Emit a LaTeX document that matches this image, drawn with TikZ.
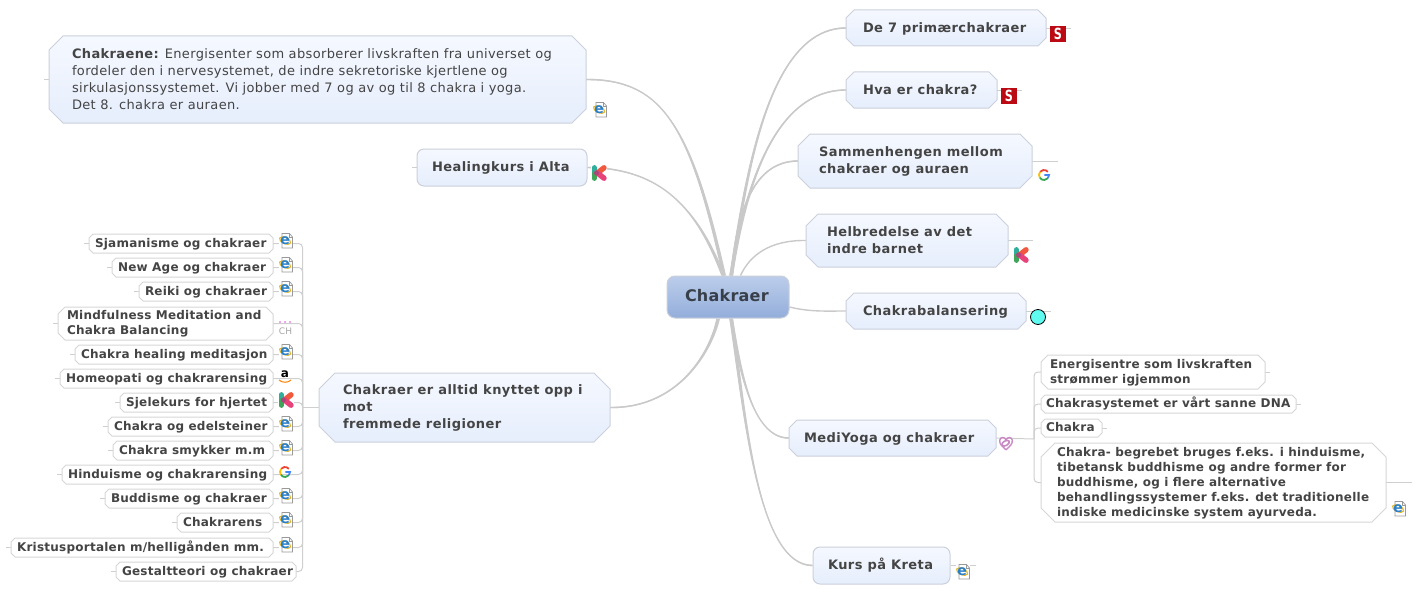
\documentclass[tikz,border=0pt]{standalone}
\usepackage{graphicx}
\usepackage{fontspec}
\setmainfont{DejaVu Sans}
\usetikzlibrary{calc}
\pgfdeclarelayer{bg}
\pgfsetlayers{bg,main}
\definecolor{linkc}{HTML}{C9C9C9}
\definecolor{thinc}{HTML}{CFCFCF}
\definecolor{edgec}{HTML}{CBD0DA}
\definecolor{childc}{HTML}{D6D6D6}
\definecolor{txt}{HTML}{444444}
\definecolor{boxtop}{HTML}{F5F8FF}
\definecolor{boxbot}{HTML}{E6EEFC}
\definecolor{roottop}{HTML}{BCCDEA}
\definecolor{rootbot}{HTML}{93AEDB}
\definecolor{roottxt}{HTML}{383F4A}
\definecolor{iegold}{HTML}{E6B422}
\definecolor{ieblue}{HTML}{2A7FC9}
\definecolor{sred}{HTML}{BB0A14}
\definecolor{gred}{HTML}{EA4335}\definecolor{gyel}{HTML}{FBBC05}\definecolor{ggrn}{HTML}{34A853}\definecolor{gblu}{HTML}{4285F4}
\definecolor{kteal}{HTML}{2FAE9B}\definecolor{kgrn}{HTML}{3FA55B}\definecolor{korg}{HTML}{F0593E}\definecolor{kpnk}{HTML}{E8427A}\definecolor{kmid}{HTML}{A8487A}
\definecolor{dotpink}{HTML}{E58BE5}
\definecolor{dotcyan}{HTML}{5FFBF1}
\definecolor{swirl}{HTML}{C98AC4}
\tikzset{
  base/.style={text=txt,inner sep=0pt,rectangle},
  octashape/.style={draw=edgec,line width=1pt,top color=boxtop,bottom color=boxbot},
  octatext/.style={base,font=\fontsize{13}{17}\selectfont\bfseries\addfontfeatures{LetterSpace=3.4}},
  plainshape/.style={octashape},
  plaintext/.style={base,font=\fontsize{13}{17}\selectfont\addfontfeatures{LetterSpace=2.8}},
  kidshape/.style={draw=childc,line width=1pt,fill=white},
  kidtext/.style={base,font=\fontsize{12}{15}\selectfont\bfseries\addfontfeatures{LetterSpace=2.0}},
  soft/.style={base,rounded corners=7pt,draw=edgec,line width=1pt,top color=boxtop,bottom color=boxbot,font=\fontsize{13}{17}\selectfont\bfseries\addfontfeatures{LetterSpace=3.4}},
  rootbox/.style={base,rounded corners=8pt,draw=edgec,line width=1pt,top color=roottop,bottom color=rootbot,text=roottxt,font=\fontsize{16}{20}\selectfont\bfseries\addfontfeatures{LetterSpace=1.5}},
  link/.style={draw=linkc,line width=1.4pt},
  tree/.style={draw=thinc,line width=1pt,rounded corners=4pt},
  tick/.style={draw=thinc,line width=0.7pt},
  icontext/.style={inner sep=0pt,outer sep=0pt}
}
% rectangle box: name x0 y0 x1 y1 pad style text
\newcommand{\bx}[8]{%
  \pgfmathsetmacro{\cx}{(#2+#4)/2}\pgfmathsetmacro{\cy}{(#3+#5)/2}%
  \pgfmathsetmacro{\bw}{#4-#2}\pgfmathsetmacro{\bh}{#5-#3}\pgfmathsetmacro{\tw}{#4-#2-2*#6}%
  \node[#7,minimum width=\bw pt,minimum height=\bh pt] (#1) at (\cx,\cy) {\hspace*{#6pt}\makebox[\tw pt][l]{\raisebox{-0.7pt}[\height][\depth]{\begin{tabular}{@{}l@{}}#8\end{tabular}}}\hspace*{#6pt}};}
% octagon box: name x0 y0 x1 y1 pad kind chamfer text
\newcommand{\ox}[9]{%
  \pgfmathsetmacro{\xa}{#2+#8}\pgfmathsetmacro{\xb}{#4-#8}\pgfmathsetmacro{\ya}{#3+#8}\pgfmathsetmacro{\yb}{#5-#8}%
  \path[#7shape] (\xa,#3) -- (\xb,#3) -- (#4,\ya) -- (#4,\yb) -- (\xb,#5) -- (\xa,#5) -- (#2,\yb) -- (#2,\ya) -- cycle;%
  \bx{#1}{#2}{#3}{#4}{#5}{#6}{#7text}{#9}}
% tapered connector: start anchor, dx1, ctrl a, ctrl b, end, dx2
\newcommand{\taper}[6]{%
  \fill[linkc] ($(#1)+(#2,0)$) .. controls (#3) and (#4) .. ($(#5)+(0,-0.7)$) -- ($(#5)+(0,0.7)$) .. controls ($(#4)+(0,1)$) and ($(#3)+(3,0)$) .. ($(#1)+(#6,0)$) -- cycle;
  \draw[link] ($(#1)+(#2,0)$) .. controls ($(#3)+(1,0)$) and (#4) .. (#5);}
\newcommand{\ieicon}[3]{\begin{scope}[shift={(#2,#3)},yscale=-1]
  \fill[white] (-7,-8) rectangle (7,8);
  \draw[draw=gray!80,line width=0.7pt,fill=white] (-4,-7) -- (6.5,-7) -- (6.5,4) -- (3.5,7.5) -- (-4,7.5) -- cycle;
  \draw[draw=gray!80,line width=0.5pt] (3,7.5) -- (3,4) -- (6.5,4);
  \draw[draw=iegold,line width=1.1pt,rotate=25] (-1,0) ellipse (6 and 3);
  \node[icontext,font=\fontsize{14}{14}\selectfont\bfseries,text=ieblue] (#1) at (-0.8,0.5) {e};
\end{scope}}
\newcommand{\sicon}[3]{\node[icontext,fill=sred,text=white,minimum size=16pt,font=\fontsize{14}{14}\selectfont\bfseries] (#1) at (#2,#3) {\scalebox{0.8}[1.1]{S}};}
\newcommand{\gicon}[3]{\begin{scope}[shift={(#2,#3)},yscale=-1,line width=1.8pt]
  \coordinate (#1) at (0,0);
  \draw[draw=gred] (40:5) arc (40:140:5);
  \draw[draw=gyel] (140:5) arc (140:215:5);
  \draw[draw=ggrn] (215:5) arc (215:320:5);
  \draw[draw=gblu] (320:5) arc (320:360:5) -- (0.3,0);
\end{scope}}
\newcommand{\kicon}[3]{\begin{scope}[shift={(#2,#3)},yscale=-1,line cap=round,line width=5.4pt]
  \coordinate (#1) at (0,0);
  \fill[white] (-8,-8) rectangle (8,8);
  \draw[draw=kteal] (-4.8,5.2) -- (-4.8,-0.5);
  \draw[draw=kgrn] (-4.8,-1) -- (-4.8,-5.2);
  \draw[draw=korg] (-1.5,0) -- (5,5.2);
  \draw[draw=kpnk] (-1.5,0) -- (5,-5.2);
  \fill[kmid] (-2.5,0) circle (2.5);
\end{scope}}
\begin{document}
\begin{tikzpicture}[x=1pt,y=-1pt]
\useasboundingbox (0,0) rectangle (1422,594);
\bx{root}{667}{276}{789}{318}{18}{rootbox}{Chakraer}
\ox{seven}{846}{10}{1046}{46}{17}{octa}{8}{De 7 primærchakraer}
\ox{hva}{846}{72}{997}{108}{17}{octa}{8}{Hva er chakra?}
\ox{samm}{798}{134}{1032}{188}{21}{octa}{12}{Sammenhengen mellom\\chakraer og auraen}
\ox{helb}{806}{214}{1008}{267}{21}{octa}{12}{Helbredelse av det\\indre barnet}
\ox{bal}{846}{293}{1026}{329}{17}{octa}{8}{Chakrabalansering}
\ox{medi}{789}{420}{996}{456}{15}{octa}{8}{MediYoga og chakraer}
\bx{kreta}{813}{547}{950}{584}{15}{soft}{Kurs på Kreta}
\ox{info}{49}{36}{586}{123}{23}{plain}{14}{{\bfseries Chakraene:} Energisenter som absorberer livskraften fra universet og\\fordeler den i nervesystemet, de indre sekretoriske kjertlene og\\sirkulasjonssystemet. Vi jobber med 7 og av og til 8 chakra i yoga.\\Det 8. chakra er auraen.}
\bx{alta}{417}{149}{587}{186}{15}{soft}{Healingkurs i Alta}
\ox{big}{319}{373}{610}{442}{24}{octa}{16}{Chakraer er alltid knyttet opp i\\mot\\fremmede religioner}
\ox{energi}{1041}{355}{1265}{389}{9}{kid}{7}{Energisentre som livskraften\\strømmer igjemmon}
\ox{dna}{1041}{395}{1296}{413}{5}{kid}{4}{Chakrasystemet er vårt sanne DNA}
\ox{chak}{1041}{419}{1102}{437}{5}{kid}{4}{Chakra}
\ox{begr}{1041}{443}{1386}{522}{16}{kid}{14}{Chakra- begrebet bruges f.eks. i hinduisme,\\tibetansk buddhisme og andre former for\\buddhisme, og i flere alternative\\behandlingssystemer f.eks. det traditionelle\\indiske medicinske system ayurveda.}
\ox{k1}{89}{234}{273}{253}{6}{kid}{4}{Sjamanisme og chakraer}
\ox{k2}{112}{258}{273}{277}{6}{kid}{4}{New Age og chakraer}
\ox{k3}{139}{282}{273}{301}{6}{kid}{4}{Reiki og chakraer}
\ox{k4}{58}{307}{273}{340}{9}{kid}{7}{Mindfulness Meditation and\\Chakra Balancing}
\ox{k5}{75}{345}{273}{364}{6}{kid}{4}{Chakra healing meditasjon}
\ox{k6}{60}{369}{273}{388}{6}{kid}{4}{Homeopati og chakrarensing}
\ox{k7}{120}{393}{273}{412}{6}{kid}{4}{Sjelekurs for hjertet}
\ox{k8}{108}{417}{273}{436}{6}{kid}{4}{Chakra og edelsteiner}
\ox{k9}{113}{441}{273}{460}{6}{kid}{4}{Chakra smykker m.m}
\ox{k10}{62}{465}{273}{484}{6}{kid}{4}{Hinduisme og chakrarensing}
\ox{k11}{105}{489}{273}{508}{6}{kid}{4}{Buddisme og chakraer}
\ox{k12}{177}{513}{273}{532}{6}{kid}{4}{Chakrarens}
\ox{k13}{11}{538}{273}{557}{6}{kid}{4}{Kristusportalen m/helligånden mm.}
\ox{k14}{116}{562}{296}{581}{6}{kid}{4}{Gestaltteori og chakraer}
\coordinate (hubl) at (302.5,407.5);
\coordinate (hubr) at (1034,439);
\begin{pgfonlayer}{bg}
\taper{root.north}{2}{745,170}{770,28}{seven.west}{5}
\taper{root.north}{2}{742,200}{770,90}{hva.west}{5}
\taper{root.north}{3}{735,220}{750,161}{samm.west}{5}
\draw[link] (root.north east) ++(-49,0) .. controls (750,255) and (770,240) .. (helb.west);
\draw[link] (root.east) ++(0,10) .. controls (810,312) and (825,311) .. (bal.west);
\taper{root.north}{-5}{690,130}{665,79}{info.east}{-2}
\taper{root.north}{-6}{700,220}{670,168}{alta.east}{-3}
\taper{root.south}{-11}{710,350}{680,408}{big.east}{-8}
\taper{root.south}{2}{740,380}{755,438}{medi.west}{5}
\taper{root.south}{2}{745,430}{760,565}{kreta.west}{5}
\foreach \k in {k1,k2,k3,k4,k5,k6,k7,k8,k9,k10,k11,k12,k13,k14}{
  \draw[tree] (\k.east) -| (hubl);
  \draw[tick] (\k.west) -- ++(-5,0);}
\draw[tree] (big.west) -- (hubl);
\draw[tree] (medi.east) -- (hubr);
\foreach \k in {energi,dna,chak,begr}{\draw[tree] (\k.west) -| (hubr);}
\draw[tick] (energi.east) -- ++(5,0);
\draw[tick] (dna.east) -- ++(5,0);
\draw[tick] (chak.east) -- ++(5,0);
\draw[tick] (begr.east) -- ++(26,0);
\draw[tick] (seven.east) -- ++(25,0);
\draw[tick] (hva.east) -- ++(25,0);
\draw[tick] (samm.east) -- ++(26,0);
\draw[tick] (helb.east) -- ++(25,0);
\draw[tick] (bal.east) -- ++(25,0);
\draw[tick] (kreta.east) -- ++(25,0);
\draw[tick] (info.west) -- ++(-5,0);
\draw[tick] (alta.west) -- ++(-5,0);
\end{pgfonlayer}
\ieicon{e1}{286}{241}\ieicon{e2}{286}{265}\ieicon{e3}{286}{289}\ieicon{e4}{286}{352}
\ieicon{e5}{286}{424}\ieicon{e6}{286}{448}\ieicon{e7}{286}{496}\ieicon{e8}{286}{520}\ieicon{e9}{286}{545}
\ieicon{e10}{600}{110}\ieicon{e11}{1399}{509}\ieicon{e12}{963}{572}
\sicon{s1}{1058}{34}\sicon{s2}{1009}{96}
\gicon{g1}{1044}{175}\gicon{g2}{285}{472}
\kicon{c1}{599}{173}\kicon{c2}{1021}{255}\kicon{c3}{286}{400}
\node[icontext,font=\fontsize{12}{12}\selectfont\bfseries,text=black] (amz) at (285,374) {a};
\draw[draw=orange,line width=1pt] (279,380) .. controls (282,383) and (288,383) .. (291,380);
\fill[dotpink] (280,322) circle (1.1) (285,322) circle (1.1) (290,322) circle (1.1);
\node[icontext,font=\fontsize{9}{9}\selectfont,text=gray!70] (chtxt) at (285.5,331) {CH};
\node[circle,draw=black,line width=0.8pt,fill=dotcyan,minimum size=15pt,inner sep=0pt] (dot) at (1038,317) {};
\begin{scope}[shift={(1006,443)},scale=0.9]
\draw[draw=swirl,line width=1.4pt] (0,7.5) .. controls (-4,4) and (-7.5,1) .. (-7,-3) .. controls (-6.5,-7) and (-1.5,-7) .. (0,-3.5) .. controls (1.5,-7) and (6.5,-7) .. (7,-3) .. controls (7.5,1) and (4,4) .. (0,7.5);
\draw[draw=swirl,line width=1.6pt,rotate=30] (-0.5,0) ellipse (4.5 and 2.6);
\end{scope}
\end{tikzpicture}
\end{document}
